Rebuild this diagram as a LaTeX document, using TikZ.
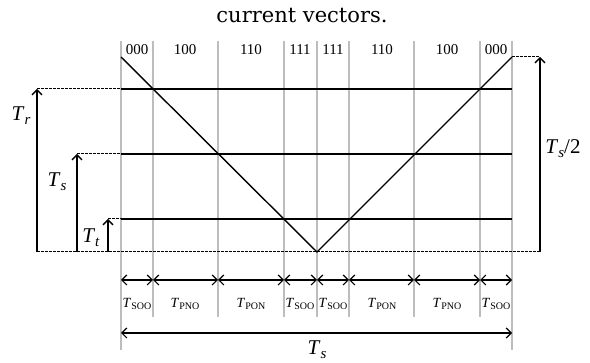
\documentclass[tikz,border=0pt]{standalone}
\usepackage{fontspec}
\setmainfont{Liberation Serif}
\newfontfamily\titlefont{DejaVu Serif}
\usepackage{xcolor}
\definecolor{SWgrid}{HTML}{BDBDBD}
\usetikzlibrary{arrows.meta}
\newcommand{\tsub}[1]{\textit{T}{\fontsize{10}{10}\selectfont\raisebox{-2.5pt}{#1}}}
\newcommand{\tbig}[1]{\textit{T}{\fontsize{15}{15}\selectfont\raisebox{-4pt}{\textit{#1}}}}

\begin{document}
\begin{tikzpicture}[x=1pt,y=-1pt]
  \tikzset{
  grid/.style={SWgrid, line width=1.3pt},
  wave/.style={black, line width=1.4pt},
  guide/.style={black, dash pattern=on 2.5pt off 1.5pt, line width=1pt},
  span/.style={{Straight Barb[length=5pt,width=10pt]}-{Straight Barb[length=5pt,width=10pt]}, line width=1.2pt},
  rise/.style={-{Straight Barb[length=5pt,width=10pt]}, line width=1.4pt},
  bits/.style={font=\rmfamily\fontsize{15}{15}\selectfont},
  lab/.style={font=\rmfamily\fontsize{14}{14}\selectfont},
  big/.style={font=\rmfamily\fontsize{21}{21}\selectfont},
}
  \useasboundingbox (0,0) rectangle (590,363);

  % Title
  \node[font=\titlefont\fontsize{21}{21}\selectfont] (title) at (302,16) {current vectors.};

  % Switching instants (grey grid)
  \foreach \n/\x in {0/121,1/153,2/218,3/284,4/317,5/349,6/414,7/480,8/512} {
    \coordinate (t\n) at (\x,41);
    \coordinate (b\n) at (\x,317);
    \coordinate (m\n) at (\x,280);
  }
  \coordinate (b0) at (121,350);
  \coordinate (b8) at (512,350);
  \foreach \n in {0,...,8}
    \draw[grid] (t\n) -- (b\n);

  % Carrier (triangle)
  \coordinate (peakL) at (121,57);
  \coordinate (apex) at (317,252);
  \coordinate (peakR) at (512,57);
  \draw[wave] (peakL) -- (apex) -- (peakR);

  % References
  \foreach \r/\y/\xa in {r/89/37,s/154/77,t/219/108} {
    \coordinate (\r L) at (121,\y);
    \coordinate (\r R) at (512,\y);
    \coordinate (\r A) at (\xa,\y);
    \coordinate (\r B) at (\xa,252);
    \draw[wave] (\r L) -- (\r R);
    \draw[guide] (\r A) -- (\r L);
    \draw[rise] (\r B) -- (\r A);
  }
  \coordinate (zeroL) at (37,252);
  \coordinate (zeroR) at (540,252);
  \coordinate (halfR) at (540,57);
  \draw[guide] (zeroL) -- (zeroR);
  \draw[guide] (peakR) -- (halfR);
  \draw[rise] (zeroR) -- (halfR);

  % Labels
  \node[big] (Tr) at (21,116) {\tbig{r}};
  \node[big] (Ts) at (57,182) {\tbig{s}};
  \node[big] (Tt) at (91,238) {\tbig{t}};
  \node[big] (Thalf) at (563,149) {\textit{T}{\fontsize{15}{15}\selectfont\raisebox{-4pt}{\textit{s}}}/2};

  % Vector states
  \foreach \x/\v in {137/000,185/100,251/110,300/111,333/111,382/110,447/100,496/000}
    \node[bits] (v\x) at (\x,50) {\v};

  % Dwell times
  \foreach \a/\b in {0/1,1/2,2/3,3/4,4/5,5/6,6/7,7/8}
    \draw[span] (m\a) -- (m\b);
  \foreach \x/\d in {137/SOO,185/PNO,251/PON,300/SOO,333/SOO,382/PON,447/PNO,496/SOO}
    \node[lab] (d\x) at (\x,304) {\tsub{\d}};

  % Period
  \coordinate (perL) at (121,333);
  \coordinate (perR) at (512,333);
  \draw[span] (perL) -- (perR);
  \node[big] (Tper) at (317,350) {\tbig{s}};
\end{tikzpicture}
\end{document}
